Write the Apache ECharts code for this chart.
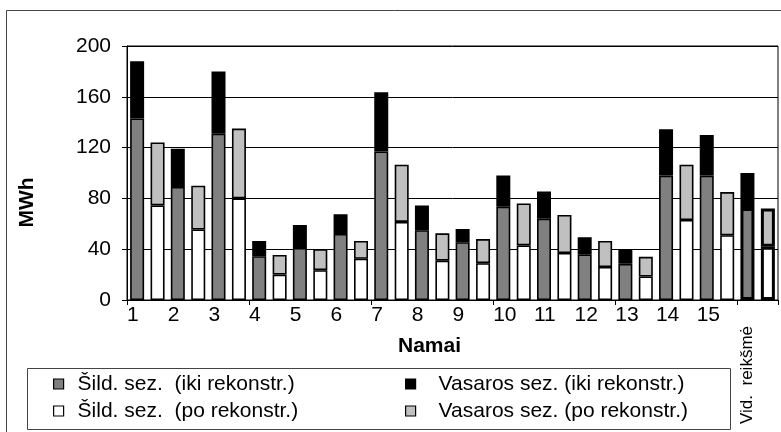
<!DOCTYPE html>
<html>
<head>
<meta charset="utf-8">
<script src="https://cdn.jsdelivr.net/npm/echarts@6/dist/echarts.min.js"></script>
<style>
  html, body { margin: 0; padding: 0; background: #fff; }
  #chart { width: 781px; height: 432px; }
</style>
</head>
<body>
<div id="chart"></div>
<script>
// Houses 1..15 plus the average column
const houseLabels = ['1','2','3','4','5','6','7','8','9','10','11','12','13','14','15'];
const avgLabel = 'Vid.  reikšmė';
const categories = houseLabels.concat([avgLabel]);

// Heating / summer season consumption, MWh, before and after reconstruction
const sildIki = [143, 89, 131, 34.5, 41, 52, 117, 55, 45.5, 73.5, 64, 36, 28.5, 98, 98, 72.5];
const vasIki  = [45, 30, 49, 12, 18, 15.5, 46.5, 19.5, 10.5, 24.5, 21.5, 13.5, 11.5, 36.5, 32, 27.5];
const sildPo  = [74.5, 55.5, 80, 20, 23.5, 32.5, 61.5, 31, 29, 43, 37, 26, 18.5, 63, 51, 42];
const vasPo   = [49.5, 34.5, 55, 15.5, 16.5, 14, 45, 21.5, 19, 33, 30, 20.5, 15.5, 43.5, 34, 30];

const names = {
  sildIki: 'Šild. sez.  (iki rekonstr.)',
  sildPo:  'Šild. sez.  (po rekonstr.)',
  vasIki:  'Vasaros sez. (iki rekonstr.)',
  vasPo:   'Vasaros sez. (po rekonstr.)'
};

const FONT = "'Liberation Sans', Arial, sans-serif";
const avgIndex = categories.length - 1;

// the average column gets a heavier outline
function withAvgOutline(arr) {
  return arr.map((v, i) => i === avgIndex ? { value: v, itemStyle: { borderWidth: 3 } } : v);
}

function barSeries(name, stack, data, color) {
  return {
    name: name,
    type: 'bar',
    stack: stack,
    xAxisIndex: 0,
    barWidth: 14,
    barGap: '46%',
    data: withAvgOutline(data),
    itemStyle: { color: color, borderColor: '#000', borderWidth: 1.6 },
    emphasis: { disabled: true }
  };
}

// boundary-positioned house numbers (one slot per category edge)
const edgeLabels = houseLabels.concat(['', '']);

const chart = echarts.init(document.getElementById('chart'), null, { renderer: 'canvas' });

const legendText = { fontFamily: FONT, fontSize: 21, color: '#000', lineHeight: 22 };
const legendIconStyle = { borderColor: '#000', borderWidth: 1.2 };

chart.setOption({
  animation: false,
  backgroundColor: '#fff',
  textStyle: { fontFamily: FONT },
  grid: { left: 127, right: 1, top: 46, bottom: 132, show: true, borderColor: '#000', borderWidth: 1 },
  graphic: [
    { type: 'rect', shape: { x: 6.5, y: 10.5, width: 900, height: 600 },
      style: { fill: 'none', stroke: '#444', lineWidth: 1 }, silent: true, z: 0 },
    { type: 'rect', shape: { x: 27.5, y: 368.5, width: 703, height: 61 },
      style: { fill: 'none', stroke: '#444', lineWidth: 1 }, silent: true, z: 0 }
  ],
  legend: [
    {
      data: [names.sildIki, names.sildPo],
      orient: 'vertical', left: 53, top: 373, padding: 0,
      icon: 'rect', itemWidth: 10, itemHeight: 10, itemGap: 5,
      itemStyle: legendIconStyle,
      textStyle: Object.assign({ padding: [0, 0, 0, 9] }, legendText),
      selectedMode: false
    },
    {
      data: [names.vasIki, names.vasPo],
      orient: 'vertical', left: 405, top: 373, padding: 0,
      icon: 'rect', itemWidth: 10, itemHeight: 10, itemGap: 5,
      itemStyle: legendIconStyle,
      textStyle: Object.assign({ padding: [0, 0, 0, 18] }, legendText),
      selectedMode: false
    }
  ],
  xAxis: [
    {
      type: 'category',
      data: categories,
      boundaryGap: true,
      name: 'Namai',
      nameLocation: 'middle',
      nameGap: 36,
      nameTextStyle: { fontFamily: FONT, fontSize: 21, fontWeight: 'bold', color: '#000', padding: [0, 46, 0, 0] },
      axisLine: { lineStyle: { color: '#000', width: 1 } },
      axisTick: { show: true, length: 5, lineStyle: { color: '#000' } },
      axisLabel: { show: false },
      splitLine: { show: false }
    },
    {
      type: 'category',
      data: edgeLabels,
      boundaryGap: false,
      position: 'bottom',
      axisLine: { show: false },
      axisTick: { show: false },
      axisLabel: { interval: 0, align: 'left', margin: 5, fontFamily: FONT, fontSize: 21, color: '#000' },
      splitLine: { show: false }
    },
    {
      type: 'value',
      min: 0, max: 64, interval: 1,
      position: 'bottom',
      axisLine: { show: false },
      axisTick: { show: false },
      splitLine: { show: false },
      axisLabel: {
        rotate: 90, margin: 26, fontFamily: FONT, fontSize: 17, color: '#000',
        formatter: v => (v === 61 ? avgLabel : '')
      }
    }
  ],
  yAxis: {
    type: 'value',
    min: 0, max: 200, interval: 40,
    name: 'MWh',
    nameLocation: 'middle',
    nameGap: 89,
    nameTextStyle: { fontFamily: FONT, fontSize: 21, fontWeight: 'bold', color: '#000', padding: [0, 59, 0, 0] },
    axisLine: { show: true, lineStyle: { color: '#000', width: 1 } },
    axisTick: { show: true, length: 5, lineStyle: { color: '#000' } },
    axisLabel: { margin: 16, fontFamily: FONT, fontSize: 21, color: '#000' },
    splitLine: { show: true, lineStyle: { color: '#000', width: 1 } }
  },
  series: [
    barSeries(names.sildIki, 'iki', sildIki, '#808080'),
    barSeries(names.vasIki, 'iki', vasIki, '#000000'),
    barSeries(names.sildPo, 'po', sildPo, '#ffffff'),
    barSeries(names.vasPo, 'po', vasPo, '#c0c0c0')
  ]
});
</script>
</body>
</html>
